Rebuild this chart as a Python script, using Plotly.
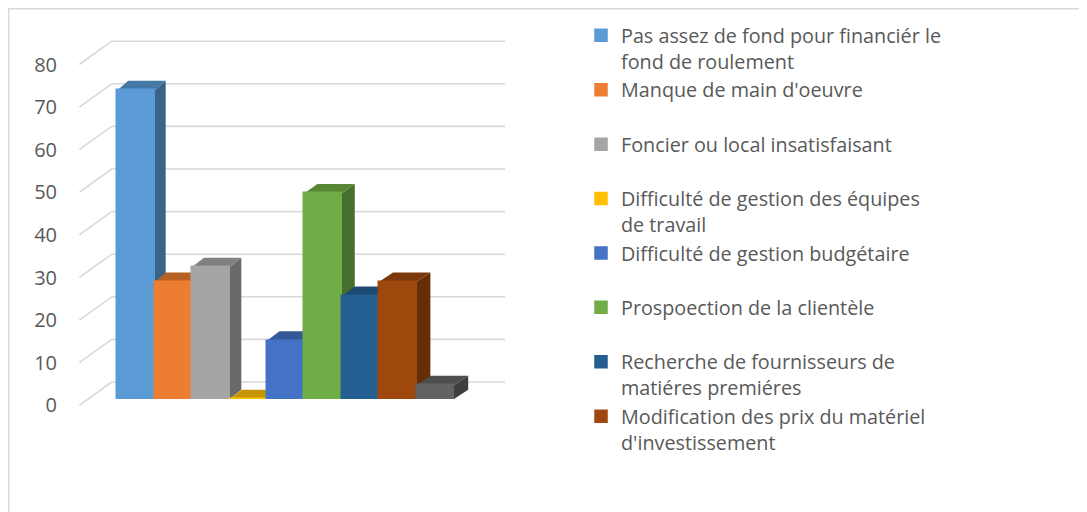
import plotly.graph_objects as go

# ---------------- data ----------------
SERIES = [
    ["Pas assez de fond pour financiér le", "fond de roulement"],
    ["Manque de main d'oeuvre"],
    ["Foncier ou local insatisfaisant"],
    ["Difficulté de gestion des équipes", "de travail"],
    ["Difficulté de gestion budgétaire"],
    ["Prospoection de la clientèle"],
    ["Recherche de fournisseurs de", "matiéres premiéres"],
    ["Modification des prix du matériel", "d'investissement"],
    ["Autre"],
]
VALUES = [72.5, 27.5, 31.0, 0.0, 13.7, 48.3, 24.2, 27.5, 3.3]
COLORS = ["#5B9BD5", "#ED7D31", "#A5A5A5", "#FFC000", "#4472C4",
          "#70AD47", "#255E91", "#9E480E", "#636363"]
SHOW_IN_LEGEND = [True] * 8 + [False]
Y_TICKS = [0, 10, 20, 30, 40, 50, 60, 70, 80]

# ---------------- geometry (styling) ----------------
W, H = 1087, 512
OFF = 8                      # page body margin (screen = figure + OFF)
L, R, T, B = 50, 540, 8, 504  # plot area in figure px
PX_X = 37.41                 # px per x unit (one bar width)
X0 = 136.0                   # screen px of bar 0 centre
PX_V = 4.26                  # px per value unit
V0 = 399.0                   # screen px of value 0 on bars' front plane

def xu(sx):
    return (sx - X0) / PX_X

def vu(sy):
    return (V0 - sy) / PX_V

FRONT_DV = vu(405.3)
BACK_DV = vu(382.0)
DIAG_X0 = xu(79.3)
WALL_X0 = xu(111.7)
WALL_X1 = xu(505.0)
BAR_DY = 9.3 / PX_V

def shade(hexc, f):
    h = hexc.lstrip("#")
    r, g, b = (int(h[i:i + 2], 16) for i in (0, 2, 4))
    return "rgb(%d,%d,%d)" % (r * f, g * f, b * f)

FONT = "Open Sans"
TXT = "#595959"
GRID = "#D9D9D9"

fig = go.Figure()
shapes = []

for v in Y_TICKS:
    shapes.append(dict(type="line", xref="x", yref="y", layer="below",
                       x0=DIAG_X0, y0=v + FRONT_DV, x1=WALL_X0, y1=v + BACK_DV,
                       line=dict(color=GRID, width=1.6)))
    shapes.append(dict(type="line", xref="x", yref="y", layer="below",
                       x0=WALL_X0, y0=v + BACK_DV, x1=WALL_X1, y1=v + BACK_DV,
                       line=dict(color=GRID, width=1.6)))

for i, (lines, val, col, show) in enumerate(zip(SERIES, VALUES, COLORS, SHOW_IN_LEGEND)):
    label = "<br>".join(lines if len(lines) > 1 else lines + ["\u00a0"])
    fig.add_trace(go.Bar(
        x=[i], y=[val], width=1.0, name=label, showlegend=show,
        marker=dict(color=col, line=dict(width=1.5, color=col)),
        hovertemplate=" ".join(lines) + ": %{y}<extra></extra>",
    ))
    ddx = (11.0 + 0.4 * i) / PX_X
    xl, xr = i - 0.5, i + 0.5
    side = "M %f,%f L %f,%f L %f,%f L %f,%f Z" % (
        xr, 0, xr + ddx, BAR_DY, xr + ddx, val + BAR_DY, xr, val)
    top = "M %f,%f L %f,%f L %f,%f L %f,%f Z" % (
        xl, val, xr, val, xr + ddx, val + BAR_DY, xl + ddx, val + BAR_DY)
    shapes.append(dict(type="path", xref="x", yref="y", layer="below", path=side,
                       fillcolor=shade(col, 0.64), line=dict(width=0)))
    shapes.append(dict(type="path", xref="x", yref="y", layer="below", path=top,
                       fillcolor=shade(col, 0.78), line=dict(width=0)))

def xp(fx):
    return (fx - L) / (R - L)

def yp(fy):
    return (B - fy) / (B - T)

shapes.append(dict(type="rect", xref="paper", yref="paper", layer="below",
                   x0=xp(0.8), y0=yp(0.8), x1=xp(W + 20), y1=yp(H + 20),
                   line=dict(color=GRID, width=1.5), fillcolor="rgba(0,0,0,0)"))

fig.update_layout(
    width=W, height=H,
    margin=dict(l=L, r=W - R, t=T, b=H - B, pad=0),
    paper_bgcolor="white", plot_bgcolor="rgba(0,0,0,0)",
    barmode="overlay", bargap=0,
    shapes=shapes,
    font=dict(family=FONT, size=20, color=TXT),
    xaxis=dict(range=[xu(L + OFF), xu(R + OFF)], visible=False, fixedrange=True),
    yaxis=dict(range=[vu(B + OFF), vu(T + OFF)], tickvals=[v + FRONT_DV for v in Y_TICKS],
               ticktext=[str(v) for v in Y_TICKS], showgrid=False, zeroline=False,
               showline=False, ticks="", tickfont=dict(family=FONT, size=20, color=TXT),
               fixedrange=True),
    legend=dict(xref="paper", yref="paper", x=xp(573), y=1,
                xanchor="left", yanchor="top", valign="top", tracegroupgap=0,
                bgcolor="rgba(0,0,0,0)", font=dict(family=FONT, size=19.77, color=TXT)),
    showlegend=True,
)

fig.write_html("out.html")
